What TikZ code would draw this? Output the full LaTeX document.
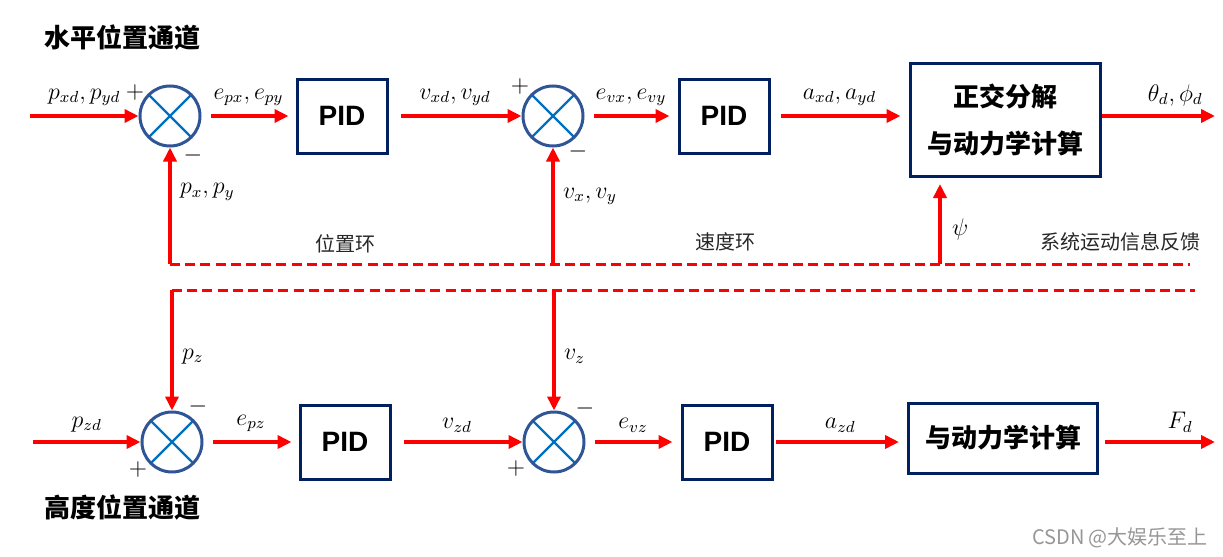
\documentclass[tikz,border=0pt]{standalone}
\usepackage{fontspec}
\newfontfamily\cjk{Noto Sans CJK SC}
\newfontfamily\pidfont{Liberation Sans}
\usetikzlibrary{arrows.meta,positioning,calc}
\definecolor{sigred}{RGB}{255,0,0}
\definecolor{boxnavy}{RGB}{0,32,96}
\definecolor{sumring}{RGB}{47,85,151}
\definecolor{sumcross}{RGB}{0,112,192}
\definecolor{wmgray}{RGB}{150,150,150}

\begin{document}
\begin{tikzpicture}[x=0.5pt, y=-0.5pt,
    sumnode/.style={circle, draw=sumring, line width=1.5pt, minimum size=30pt,
                    inner sep=0pt,
                    path picture={\draw[sumcross, line width=1.2pt]
                      (path picture bounding box.center) ++(45:15pt) -- ++(225:30pt)
                      (path picture bounding box.center) ++(135:15pt) -- ++(315:30pt);}},
    pidbox/.style={rectangle, draw=boxnavy, line width=1.5pt, minimum width=45pt,
                   minimum height=37pt, font=\pidfont\bfseries\fontsize{14}{16}\selectfont},
    calcbox/.style={rectangle, draw=boxnavy, line width=1.5pt, align=center,
                    font=\cjk\bfseries\fontsize{13}{23.5}\selectfont},
    sig/.style={-{Triangle[length=7pt, width=6.5pt]}, line width=2pt, sigred},
    fbline/.style={line width=1.5pt, sigred, dash pattern=on 5pt off 2.6pt},
    lbl/.style={font=\fontsize{12}{14}\selectfont, inner sep=1pt, text=black},
    sgn/.style={font=\fontsize{13}{14}\selectfont, inner sep=0pt, text=black},
    chantitle/.style={font=\cjk\bfseries\fontsize{13}{15}\selectfont},
    looplbl/.style={font=\cjk\fontsize{10}{12}\selectfont, text=black!85}
]
\useasboundingbox (0,0) rectangle (1223,557);

% horizontal channel
\node[chantitle] (toptitle) at (123,38) {水平位置通道};
\coordinate (posin) at (30,116);
\node[sumnode] (sum1) at (170,116) {};
\node[pidbox] (pid1) at (342,116) {PID};
\node[sumnode] (sum2) at (553,116) {};
\node[pidbox] (pid2) at (724,116) {PID};
\node[calcbox, minimum width=95pt, minimum height=56.5pt] (decomp) at (1005,120) {正交分解\\与动力学计算};
\coordinate (attout) at (1215,116);

\node[sgn] at ([shift={(-35,-24)}]sum1.center) {$+$};
\node[sgn] at ([shift={(23,39)}]sum1.center) {$-$};
\node[sgn] at ([shift={(-33,-30)}]sum2.center) {$+$};
\node[sgn] at ([shift={(25,35)}]sum2.center) {$-$};

\draw[sig] (posin) -- (sum1.west)
    node[lbl, midway, above=3pt] {$p_{xd},p_{yd}$};
\draw[sig, shorten <=4.5pt, shorten >=3.5pt] (sum1.east) -- (pid1.west)
    node[lbl, midway, above=3pt] {$e_{px},e_{py}$};
\draw[sig, shorten <=6pt] (pid1.east) -- (sum2.west)
    node[lbl, midway, above=3pt] {$v_{xd},v_{yd}$};
\draw[sig, shorten <=4.5pt, shorten >=4pt] (sum2.east) -- (pid2.west)
    node[lbl, midway, above=3pt] {$e_{vx},e_{vy}$};
\draw[sig, shorten <=5pt, shorten >=4pt] (pid2.east) -- (pid2.east -| decomp.west)
    node[lbl, midway, above=3pt] {$a_{xd},a_{yd}$};
\draw[sig] (decomp.east |- pid2.east) -- (attout)
    node[lbl, pos=0.65, above=3pt] {$\theta_d,\phi_d$};

% feedback lines
\coordinate (fbtopL) at (170,264);
\coordinate (fbtopR) at (1190,264);
\coordinate (psitap) at (940,264);
\draw[fbline] (fbtopL) -- (fbtopR);
\draw[sig] (fbtopL) -- (sum1.south)
    node[lbl, pos=0.62, right=3pt] {$p_x,p_y$};
\draw[sig] (sum2.south |- fbtopL) -- (sum2.south)
    node[lbl, pos=0.58, right=3pt] {$v_x,v_y$};
\draw[sig, shorten >=3pt] (psitap) -- (psitap |- decomp.south)
    node[lbl, pos=0.4, right=4pt] {$\psi$};
\node[looplbl] (posloop) at (345,244) {位置环};
\node[looplbl] (velloop) at (725,242) {速度环};
\node[looplbl] (fbinfo) at (1120,242) {系统运动信息反馈};

\coordinate (fbbotL) at (172,290);
\coordinate (fbbotR) at (1195,290);
\draw[fbline] (fbbotL) -- (fbbotR);

% height channel
\coordinate (hgtin) at (33,442);
\node[sumnode] (sum3) at (172,442) {};
\node[pidbox] (pid3) at (345,442) {PID};
\node[sumnode] (sum4) at (554,442) {};
\node[pidbox] (pid4) at (727,442) {PID};
\node[calcbox, minimum width=94.5pt, minimum height=35pt] (dyn) at (1003,438) {与动力学计算};
\coordinate (thrustout) at (1215,442);
\node[chantitle] (bottitle) at (123,508) {高度位置通道};

\node[sgn] at ([shift={(26,-36)}]sum3.center) {$-$};
\node[sgn] at ([shift={(-34,27)}]sum3.center) {$+$};
\node[sgn] at ([shift={(31,-34)}]sum4.center) {$-$};
\node[sgn] at ([shift={(-38,26)}]sum4.center) {$+$};

\draw[sig] (fbbotL) -- (sum3.north)
    node[lbl, pos=0.55, right=3pt] {$p_z$};
\draw[sig] (sum4.north |- fbbotL) -- (sum4.north)
    node[lbl, pos=0.55, right=3pt] {$v_z$};

\draw[sig] (hgtin) -- (sum3.west)
    node[lbl, midway, above=3pt] {$p_{zd}$};
\draw[sig, shorten <=4.5pt, shorten >=3.5pt] (sum3.east) -- (pid3.west)
    node[lbl, midway, above=3pt] {$e_{pz}$};
\draw[sig, shorten <=6pt] (pid3.east) -- (sum4.west)
    node[lbl, midway, above=3pt] {$v_{zd}$};
\draw[sig, shorten <=4.5pt, shorten >=4pt] (sum4.east) -- (pid4.west)
    node[lbl, midway, above=3pt] {$e_{vz}$};
\draw[sig, shorten <=1pt, shorten >=4pt] (pid4.east) -- (pid4.east -| dyn.west)
    node[lbl, midway, above=3pt] {$a_{zd}$};
\draw[sig, shorten <=3pt] (dyn.east |- pid4.east) -- (thrustout)
    node[lbl, pos=0.7, above=3pt] {$F_d$};

\node[font=\cjk\fontsize{10}{12}\selectfont, text=wmgray] (mark) at (1120,538) {CSDN @大娱乐至上};
\end{tikzpicture}
\end{document}
